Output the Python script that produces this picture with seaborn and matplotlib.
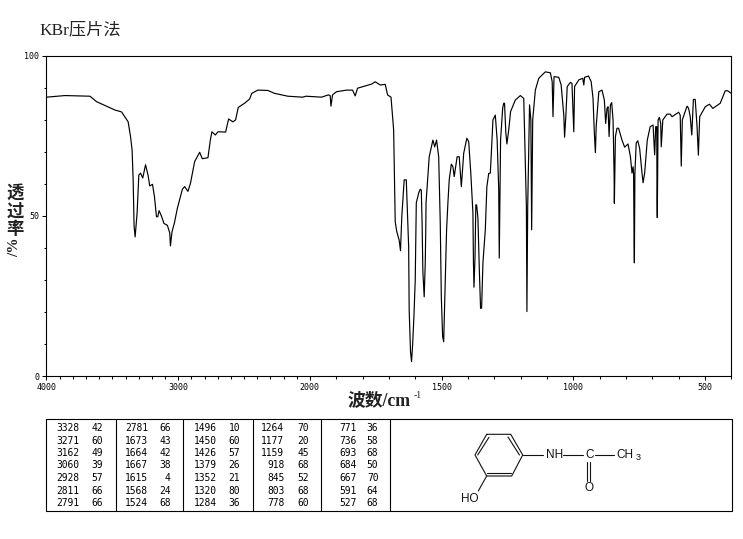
import numpy as np
import pandas as pd
import matplotlib
matplotlib.use("Agg")
import matplotlib.pyplot as plt
import seaborn as sns

wavenumber = [4000,3860,3670,3620,3481,3430,3380,3362,3350,3342,3335,3327,3312,3299,3286,3269,3248,3229,3216,3195,
 3180,3165,3155,3145,3127,3108,3082,3064,3059,3047,3029,3006,2968,2951,2926,2907,2875,2837,2817,2774,
 2756,2744,2718,2698,2640,2617,2585,2564,2544,2496,2458,2441,2395,2320,2269,2168,2055,2029,
 1975,1956,1930,1923,1920,1914,1899,1861,1838,1828,1819,1798,1765,1752,1733,1714,1705,1692,1682,1676,1670,1661,1656,
 1651,1642,1634,1625,1623,1618,1614,1610,1605,1600,1596,1587,1581,1577,1574,1571,1566,1562,1560,1559,1547,1533,1526,1519,1511,
 1505,1501,1496,1492,1486,1481,1476,1471,1463,1457,1452,1441,1433,1425,1416,1404,1397,1389,1381,1379,1377,1373,1370,1367,1362,
 1357,1352,1348,1343,1334,1328,1321,1315,1311,1305,1296,1289,1283,1281,1278,1276,1268,1264,1261,1256,1252,1245,1238,1220,1201,
 1188,1182,1178,1176,1173,1166,1161,1158,1154,1144,1131,1106,1087,1080,1077,1073,1055,1046,1036,1033,1028,1023,1011,1005,
 998,995,979,964,960,957,942,932,925,920,916,913,903,891,882,877,872,868,864,859,854,849,845,844,840,834,828,815,805,792,
 783,777,773,771,769,768,766,761,755,748,739,735,729,719,708,697,691,687,683,682,681,678,673,668,666,660,644,632,625,600,
 594,590,586,568,562,556,550,544,537,530,525,520,499,483,470,442,423,414,400]
transmittance = [87.0,87.5,87.3,85.6,83.0,82.4,79.3,74.7,70.5,61.2,46.8,43.4,50.9,62.7,63.3,61.8,65.9,62.7,59.3,59.8,
 55.9,49.7,49.7,51.6,49.9,47.6,47.0,44.6,40.6,45.0,47.7,52.4,58.3,59.1,57.6,60.1,66.9,69.8,67.8,68.1,
 73.6,76.2,75.2,76.2,76.1,80.2,79.3,79.9,83.8,85.1,86.4,88.2,89.2,89.1,88.2,87.3,87.0,87.3,
 87.1,87.0,87.7,87.5,84.2,87.7,88.7,89.2,89.2,87.4,89.8,90.3,91.1,91.8,90.8,91.0,87.7,87.0,76.8,48.1,45.0,42.4,39.1,
 49.7,61.2,61.2,40.3,20.6,7.6,4.5,9.7,18.5,30.0,54.0,57.1,58.3,58.0,47.7,32.5,24.7,35.3,45.6,54.0,68.4,73.6,71.5,73.6,68.4,
 47.7,24.7,12.3,10.7,30.0,45.6,54.0,61.2,66.1,65.3,62.2,68.4,68.4,59.1,69.5,74.2,73.1,63.2,50.9,35.3,27.7,37.2,53.4,53.4,49.3,
 34.1,21.1,21.2,35.3,45.6,59.1,63.2,63.3,69.6,79.9,81.4,73.6,58.0,36.8,58.0,73.6,83.6,85.1,85.1,75.8,72.4,76.8,82.5,86.1,87.5,
 86.6,66.5,52.8,20.1,52.8,84.6,79.9,45.6,79.9,89.2,92.9,94.9,94.6,91.8,80.9,93.4,93.2,90.8,81.4,74.5,81.4,90.3,91.6,91.3,
 76.2,90.3,92.4,92.9,90.8,93.2,93.6,91.8,86.6,75.8,69.7,77.8,88.7,89.2,86.1,78.8,83.5,84.0,74.7,84.6,85.3,79.9,63.2,53.9,74.7,77.3,77.3,73.6,71.4,72.4,
 68.4,63.3,65.3,63.2,41.5,35.3,63.3,72.7,73.4,71.0,63.3,60.3,63.3,73.6,77.8,78.3,69.0,77.8,77.8,54.9,49.4,79.9,80.7,78.8,71.5,79.9,81.7,81.7,80.9,82.3,
 81.4,65.5,79.9,84.2,83.5,80.9,75.2,86.3,86.3,77.8,68.9,80.9,84.0,84.8,83.5,85.1,89.0,89.0,88.2]

peak_wn = [[3328,3271,3162,3060,2928,2811,2791],[2781,1673,1664,1667,1615,1568,1524],
           [1496,1450,1426,1379,1352,1320,1284],[1264,1177,1159,918,845,803,778],
           [771,736,693,684,667,591,527]]
peak_t = [[42,60,49,39,57,66,66],[66,43,42,38,4,24,68],[10,60,57,26,21,80,36],
          [70,20,45,68,52,68,60],[36,58,68,50,70,64,68]]

x_major = [4000,3000,2000,1500,1000,500]
y_major = [0,50,100]

W, H = 743, 539
sns.set_theme(style="ticks")
plt.rcParams["font.family"] = ["Liberation Serif", "Noto Sans CJK SC", "DejaVu Sans"]
fig = plt.figure(figsize=(W/100, H/100), dpi=100, facecolor="white")
ax = fig.add_axes([46.5/W, (H-376)/H, 684.8/W, 320.5/H])

def fwd(v):
    v = np.asarray(v, dtype=float)
    return np.where(v >= 2000, 2000 + (v-2000)*0.5, v)
def inv(v):
    v = np.asarray(v, dtype=float)
    return np.where(v >= 2000, 2000 + (v-2000)*2.0, v)
ax.set_xscale("function", functions=(fwd, inv))

df = pd.DataFrame({"wn": wavenumber, "t": transmittance})
sns.lineplot(data=df, x="wn", y="t", sort=False, estimator=None, color="black", lw=0.85, ax=ax)
ax.set_xlim(4000, 400)
ax.set_ylim(0, 100)
ax.set_xlabel(""); ax.set_ylabel("")
ax.set_xticks(x_major)
ax.set_xticks([v for v in range(400, 4000, 100) if v not in x_major], minor=True)
ax.set_yticks(y_major)
ax.set_yticks([v for v in range(0, 101, 10) if v not in y_major], minor=True)
ax.tick_params(which="major", length=3.2, width=0.75, color="black", pad=2)
ax.tick_params(which="minor", length=1.8, width=0.75, color="black")
ax.tick_params(labelsize=6)
for lab in ax.get_xticklabels() + ax.get_yticklabels():
    lab.set_family("DejaVu Sans Mono")
    lab.set_color("black")
for s in ax.spines.values():
    s.set_visible(True); s.set_linewidth(0.8); s.set_color("black")

# overlay in pixel space for the title, labels, table and structure
ov = fig.add_axes([0, 0, 1, 1], facecolor="none")
ov.set_xlim(0, W); ov.set_ylim(H, 0); ov.axis("off")
txt = "#222222"
cjk = ["Liberation Serif", "Noto Sans CJK SC"]
ov.text(39, 30, "KBr压片法", fontsize=12.4, family=cjk, va="center", ha="left", color=txt)
for ch, y in zip("透过率", (193, 212, 230)):
    ov.text(15, y, ch, fontsize=12.5, family=cjk, weight="bold", va="center", ha="center", color=txt)
ov.text(15, 247, "/%", fontsize=11, family="Liberation Serif", weight="bold", rotation=90, va="center", ha="center", color=txt)
ov.text(348, 401, "波数/cm", fontsize=12.8, family=cjk, weight="bold", va="center", ha="left", color=txt)
ov.text(414, 396, "-1", fontsize=7, family="Liberation Serif", va="center", ha="left", color=txt)

# table
lk = dict(color="black", lw=0.8)
ov.plot([46, 731.5, 731.5, 46, 46], [419, 419, 511, 511, 419], **lk)
for xd in (116, 183.3, 252.7, 320.7, 390):
    ov.plot([xd, xd], [419, 511], **lk)
row_y = (428.3, 440.5, 453, 465.3, 477.7, 490.7, 503.3)
col_wn = (79.3, 148.3, 216.7, 284.3, 356.7)
col_t = (103.3, 170.7, 240, 309, 378.3)
for c in range(5):
    for r in range(7):
        ov.text(col_wn[c], row_y[r], str(peak_wn[c][r]), fontsize=6.9, family="DejaVu Sans Mono", ha="right", va="center", color="black")
        ov.text(col_t[c], row_y[r], str(peak_t[c][r]), fontsize=6.9, family="DejaVu Sans Mono", ha="right", va="center", color="black")

# structure
mk = dict(color="#111111", lw=0.8)
ring_x = [486.7, 510.7, 522.7, 511.7, 486.7, 475, 486.7]
ring_y = [434.3, 434.3, 455, 476, 476, 455, 434.3]
ov.plot(ring_x, ring_y, **mk)
for (a, b, c, d) in [(489, 477.7, 437.3, 455), (508, 519.5, 437, 455), (487, 510.7, 473.3, 473.3),
                     (522.7, 542.7, 455, 455), (563.3, 583.3, 455, 455), (595, 614, 455, 455),
                     (587.3, 587.3, 462, 481), (590.3, 590.3, 462, 481), (486.7, 478.3, 476, 491)]:
    ov.plot([a, b], [c, d], **mk)
sk = dict(fontsize=8.5, family="Liberation Sans", va="center", color="#111111")
ov.text(555, 455, "NH", ha="center", **sk)
ov.text(589.3, 455, "C", ha="center", **sk)
ov.text(616.5, 455, "CH", ha="left", **sk)
ov.text(636, 458, "3", ha="left", fontsize=6.5, family="Liberation Sans", va="center", color="#111111")
ov.text(589.3, 487.7, "O", ha="center", **sk)
ov.text(469.3, 499.3, "HO", ha="center", **sk)

fig.savefig("out.png", dpi=100, facecolor="white")
